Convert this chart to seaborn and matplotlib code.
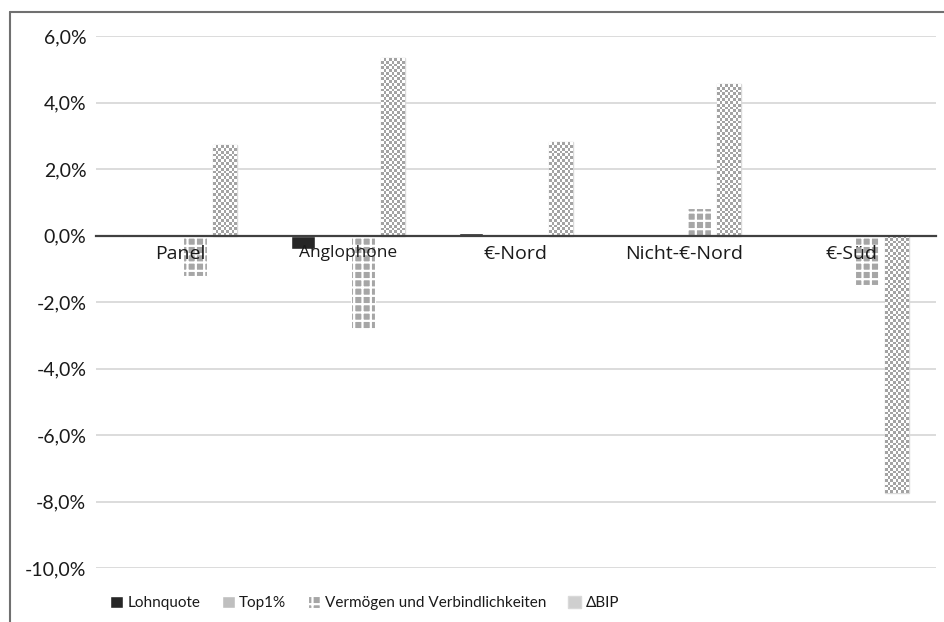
"""
Balkendiagramm: Beiträge zu ΔBIP nach Ländergruppen
"""
import numpy as np
import pandas as pd
import seaborn as sns
import matplotlib
matplotlib.use('Agg')
import matplotlib.pyplot as plt
from matplotlib.colors import ListedColormap
from matplotlib.lines import Line2D
from matplotlib.ticker import FuncFormatter

# ==================== Daten ====================
gruppen = ['Panel', 'Anglophone', '€-Nord', 'Nicht-€-Nord', '€-Süd']
serien = ['Lohnquote', 'Top1%', 'Vermögen und Verbindlichkeiten', '\u0394BIP']
lohnquote = [-0.0005, -0.0040, 0.0007, 0.0, 0.0]
top1 = [-0.0003, -0.0005, 0.0, -0.0003, -0.0005]
vermoegen = [-0.0123, -0.0280, -0.0008, 0.0084, -0.0150]
delta_bip = [0.0273, 0.0535, 0.0282, 0.0457, -0.0774]
y_ticks = [-0.10, -0.08, -0.06, -0.04, -0.02, 0.0, 0.02, 0.04, 0.06]

# ==================== Konfiguration ====================
sns.set_style('white')
plt.rcParams['font.family'] = ['Lato', 'DejaVu Sans']
plt.rcParams['hatch.linewidth'] = 1.6

FARBEN = {serien[0]: '#262626', serien[1]: '#bfbfbf',
          serien[2]: '#a6a6a6', serien[3]: '#cfcfcf'}

df = pd.DataFrame({
    'gruppe': gruppen * 4,
    'serie': [s for s in serien for _ in gruppen],
    'wert': lohnquote + top1 + vermoegen + delta_bip,
})

fig = plt.figure(figsize=(9.44, 6.22), dpi=100)
ax = fig.add_axes([0.1017, 0.0868, 0.8898, 0.8553])

sns.barplot(data=df, x='gruppe', y='wert', hue='serie', order=gruppen,
            hue_order=serien, palette=FARBEN, width=0.714, gap=0.2,
            errorbar=None, ax=ax, legend=False)

ax.set_xlim(-0.5, 4.5)
ax.set_ylim(-0.10, 0.06)

# Schraffur für Vermögen: weißes Gitter auf grau
for p in ax.containers[2]:
    p.set_hatch('++')
    p.set_edgecolor('white')
    p.set_linewidth(0.8)

# Schachbrettmuster für ΔBIP
cmap = ListedColormap(['#ffffff', '#a3a3a3'])
for p in ax.containers[3]:
    p.set_edgecolor('#d9d9d9')
    p.set_linewidth(1.0)
    x0, y0 = p.get_x(), p.get_y()
    w, h = p.get_width(), p.get_height()
    yb, yt = min(y0, y0 + h), max(y0, y0 + h)
    (px0, py0), (px1, py1) = ax.transData.transform([(x0, yb), (x0 + w, yt)])
    nx = max(1, int(round((px1 - px0) / 2.8)))
    ny = max(1, int(round((py1 - py0) / 2.8)))
    checker = np.add.outer(np.arange(ny), np.arange(nx)) % 2
    im = ax.imshow(checker, cmap=cmap, extent=(x0, x0 + w, yb, yt),
                   aspect='auto', interpolation='nearest', zorder=1.5)
    im.set_clip_path(p)

ax.set_xlim(-0.5, 4.5)
ax.set_ylim(-0.10, 0.06)

# Gitterlinien unter den Balken, Achsenbeschriftung darüber
ax.hlines(y_ticks, -0.5, 4.5, color='#d9d9d9', linewidth=1.3, zorder=0)
ax.grid(False)
ax.set_axisbelow(False)
ax.xaxis.set_zorder(3)

# Achsen
for s in ['left', 'right', 'top']:
    ax.spines[s].set_visible(False)
ax.spines['bottom'].set_position(('data', 0))
ax.spines['bottom'].set_color('#404040')
ax.spines['bottom'].set_linewidth(1.6)

ax.set_xticks(np.arange(-0.5, 5, 1.0))
ax.set_xticklabels([])
ax.tick_params(axis='x', which='major', direction='in', length=5,
               width=1.6, color='#404040')
ax.set_xticks(range(len(gruppen)), minor=True)
ax.set_xticklabels(gruppen, minor=True, family=['Open Sans', 'DejaVu Sans'],
                   fontsize=14, color='#1a1a1a')
ax.tick_params(axis='x', which='minor', length=0, pad=7)
for lbl in ax.get_xticklabels(minor=True):
    if lbl.get_text() == 'Anglophone':
        lbl.set_fontsize(12.5)

ax.set_yticks(y_ticks)
ax.yaxis.set_major_formatter(FuncFormatter(
    lambda v, _: f"{v * 100:.1f}%".replace('.', ',')))
ax.tick_params(axis='y', length=0, pad=7, labelsize=14, labelcolor='#1a1a1a')
ax.set_xlabel('')
ax.set_ylabel('')

# Legende
handles = [c.patches[0] for c in ax.containers]
fig.legend(handles, serien, loc='center', bbox_to_anchor=(0.386, 0.031),
           ncol=4, frameon=False, fontsize=11, handlelength=0.85,
           handleheight=0.85, handletextpad=0.3, columnspacing=1.4,
           labelcolor='#1a1a1a')

# Rahmen oben und links
fig.add_artist(Line2D([10 / 944, 1.0], [1 - 12 / 622, 1 - 12 / 622],
                      color='#707070', linewidth=1.5))
fig.add_artist(Line2D([10 / 944, 10 / 944], [0.0, 1 - 12 / 622],
                      color='#707070', linewidth=1.5))

fig.savefig('out.png', dpi=100)
plt.close('all')
